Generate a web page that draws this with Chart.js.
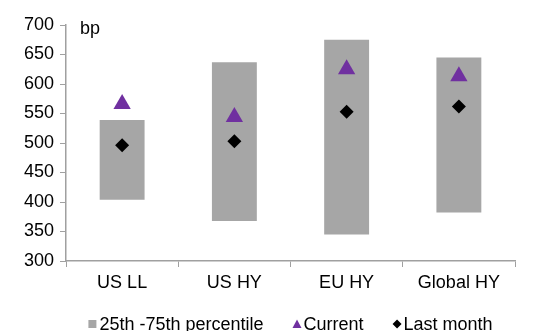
<!DOCTYPE html>
<html>
<head>
<meta charset="utf-8">
<script src="https://cdn.jsdelivr.net/npm/chart.js@4/dist/chart.umd.min.js"></script>
<style>
  html, body { margin: 0; padding: 0; background: #fff; }
  #wrap { width: 545px; height: 331px; }
</style>
</head>
<body>
<div id="wrap"><canvas id="c" width="545" height="331"></canvas></div>
<script>
// Spread ranges (bp) by market
const categories = ['US LL', 'US HY', 'EU HY', 'Global HY'];
const pct25 = [404, 368, 345, 382];
const pct75 = [539, 637, 675, 645];
const current = [566, 544, 625, 613];
const lastMonth = [496, 503, 553, 562];
const yTicks = [300, 350, 400, 450, 500, 550, 600, 650, 700];

const FONT = '"Liberation Sans", Arial, sans-serif';
const AXIS = '#a0a0a0';
const BAR = '#a6a6a6';
const PURPLE = '#7030a0';

// Unit caption at the top-left of the plot area
const unitLabel = {
  id: 'unitLabel',
  afterDraw(chart) {
    const { ctx, chartArea } = chart;
    ctx.save();
    ctx.font = '18px ' + FONT;
    ctx.fillStyle = '#000';
    ctx.textBaseline = 'middle';
    ctx.fillText('bp', chartArea.left + 14, chartArea.top + 4);
    ctx.restore();
  }
};

// Compact legend row under the axis: small marker, short gap, label
const compactLegend = {
  id: 'compactLegend',
  afterDraw(chart) {
    const { ctx, chartArea } = chart;
    const items = chart.data.datasets.map(ds => ({
      text: ds.label,
      style: ds.legendStyle,
      color: ds.backgroundColor
    }));
    ctx.save();
    ctx.font = '18px ' + FONT;
    const mark = 9, gapIn = 2, gapOut = 29;
    const widths = items.map(it => mark + gapIn + ctx.measureText(it.text).width);
    const total = widths.reduce((a, b) => a + b, 0) + gapOut * (items.length - 1);
    let x = (chartArea.left + chartArea.right) / 2 - total / 2;
    const baseY = 330, cy = 324;
    items.forEach((it, i) => {
      ctx.fillStyle = it.color;
      const cx = x + mark / 2;
      ctx.beginPath();
      if (it.style === 'rect') {
        ctx.rect(x, cy - 4, 8, 8);
      } else if (it.style === 'triangle') {
        ctx.moveTo(cx, cy - 4.5);
        ctx.lineTo(cx + 4.5, cy + 4);
        ctx.lineTo(cx - 4.5, cy + 4);
        ctx.closePath();
      } else {
        ctx.moveTo(cx, cy - 4.5);
        ctx.lineTo(cx + 4.5, cy);
        ctx.lineTo(cx, cy + 4.5);
        ctx.lineTo(cx - 4.5, cy);
        ctx.closePath();
      }
      ctx.fill();
      ctx.fillStyle = '#000';
      ctx.textBaseline = 'alphabetic';
      ctx.fillText(it.text, x + mark + gapIn, baseY);
      x += widths[i] + gapOut;
    });
    ctx.restore();
  }
};

new Chart(document.getElementById('c'), {
  data: {
    labels: categories,
    datasets: [
      {
        type: 'bar',
        label: '25th -75th percentile',
        legendStyle: 'rect',
        data: pct25.map((lo, i) => [lo, pct75[i]]),
        backgroundColor: BAR,
        borderWidth: 0,
        barPercentage: 0.4,
        categoryPercentage: 1,
        order: 3
      },
      {
        type: 'scatter',
        label: 'Current',
        legendStyle: 'triangle',
        data: current,
        pointStyle: 'triangle',
        pointRadius: 10,
        pointHoverRadius: 10,
        backgroundColor: PURPLE,
        borderColor: PURPLE,
        borderWidth: 0,
        showLine: false,
        order: 1
      },
      {
        type: 'scatter',
        label: 'Last month',
        legendStyle: 'diamond',
        data: lastMonth,
        pointStyle: 'rectRot',
        pointRadius: 7,
        pointHoverRadius: 7,
        backgroundColor: '#000',
        borderColor: '#000',
        borderWidth: 0,
        showLine: false,
        order: 2
      }
    ]
  },
  options: {
    responsive: false,
    animation: false,
    layout: { padding: { top: 25, right: 30, bottom: 0, left: 0 } },
    scales: {
      x: {
        type: 'category',
        offset: true,
        grid: { offset: true, drawOnChartArea: false, color: AXIS, tickLength: 6 },
        border: { color: AXIS, width: 1.5 },
        ticks: { color: '#000', font: { family: FONT, size: 18 }, padding: 5 },
        afterFit(s) { s.height = 70; }
      },
      y: {
        min: 300,
        max: 700,
        afterBuildTicks(s) { s.ticks = yTicks.map(v => ({ value: v })); },
        grid: { drawOnChartArea: false, color: AXIS, tickLength: 6 },
        border: { color: AXIS, width: 1.5 },
        ticks: { color: '#000', font: { family: FONT, size: 18 }, padding: 6 },
        afterFit(s) { s.width = 66; }
      }
    },
    plugins: {
      tooltip: { enabled: false },
      legend: { display: false }
    }
  },
  plugins: [unitLabel, compactLegend]
});
</script>
</body>
</html>
